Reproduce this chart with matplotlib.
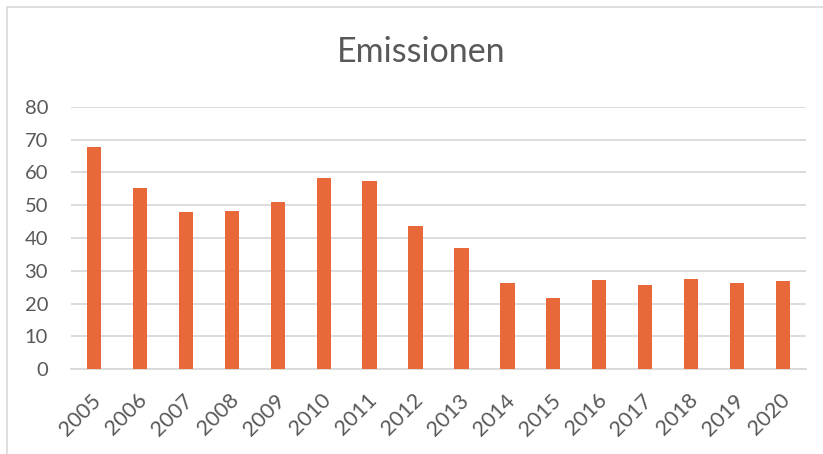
import matplotlib
matplotlib.use("Agg")
import matplotlib.pyplot as plt
from matplotlib.patches import Rectangle
from matplotlib.transforms import ScaledTranslation

years = ["2005", "2006", "2007", "2008", "2009", "2010", "2011", "2012",
         "2013", "2014", "2015", "2016", "2017", "2018", "2019", "2020"]
emissions = [67.8, 55.3, 48.0, 48.2, 51.1, 58.4, 57.3, 43.6,
             37.1, 26.3, 21.8, 27.1, 25.7, 27.5, 26.2, 26.9]
yticks = [0, 10, 20, 30, 40, 50, 60, 70, 80]
title = "Emissionen"

W, H = 823, 454
fig = plt.figure(figsize=(W / 100, H / 100), dpi=100)
plt.rcParams['font.family'] = ['Lato', 'DejaVu Sans']
text_color = '#595959'
grid_color = '#D9D9D9'
bar_color = '#E9683A'

# chart area border
fig.patches.append(Rectangle((6.5 / W, -0.1), 1.2, 1 - 7.5 / H + 0.1,
                             transform=fig.transFigure, fill=False,
                             edgecolor=grid_color, linewidth=1.2))

left, right = 71 / W, 806 / W
bottom, top = 1 - 369.3 / H, 1 - 106.7 / H
ax = fig.add_axes([left, bottom, right - left, top - bottom])

x = list(range(len(years)))
ax.bar(x, emissions, width=0.31, color=bar_color, zorder=3)
ax.set_xlim(-0.5, len(years) - 0.5)
ax.set_ylim(0, 80)
ax.set_yticks(yticks)
ax.set_yticklabels([str(v) for v in yticks])
ax.yaxis.grid(True, color=grid_color, linewidth=1.3, zorder=0)
ax.set_axisbelow(True)

for s in ['top', 'right', 'left']:
    ax.spines[s].set_visible(False)
ax.spines['bottom'].set_color(grid_color)
ax.spines['bottom'].set_linewidth(1.3)

ax.tick_params(axis='y', length=0, pad=16.5, labelsize=14.5, labelcolor=text_color)
ax.tick_params(axis='x', length=0, pad=15, labelsize=15.5, labelcolor=text_color)
ax.set_xticks(x)
ax.set_xticklabels(years, rotation=45, ha='right', va='top', rotation_mode='anchor')
offset = ScaledTranslation(-3 / 100, 0, fig.dpi_scale_trans)
for lbl in ax.get_xticklabels():
    lbl.set_transform(lbl.get_transform() + offset)

fig.text(421 / W, 1 - 51.7 / H, title, ha='center', va='center',
         fontsize=24.5, color=text_color)

fig.savefig("out.png", dpi=100)
